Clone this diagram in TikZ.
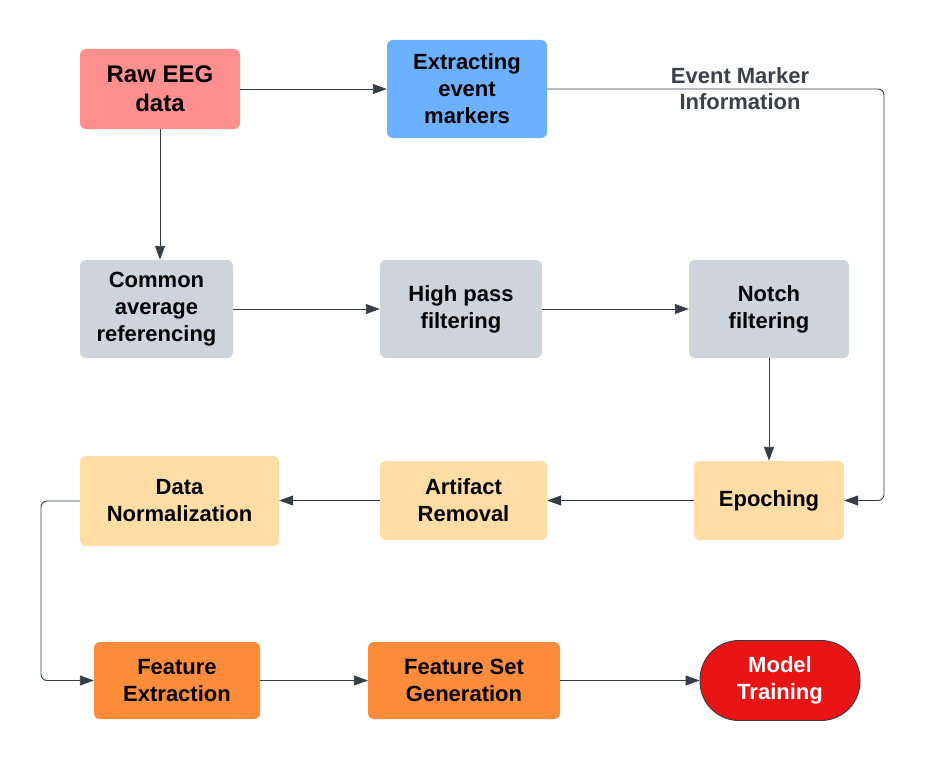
\documentclass[tikz,border=0pt]{standalone}
\usepackage{fontspec}
\setmainfont{Liberation Sans}
\usetikzlibrary{arrows.meta}
\definecolor{cRaw}{HTML}{FF8F8F}
\definecolor{cExt}{HTML}{6CB1FF}
\definecolor{cGray}{HTML}{CED4DC}
\definecolor{cYel}{HTML}{FFDDA5}
\definecolor{cOra}{HTML}{FF8C3B}
\definecolor{cRed}{HTML}{E81416}
\definecolor{cLine}{HTML}{343D48}
\definecolor{cLabel}{HTML}{3B4149}
\begin{document}
\begin{tikzpicture}[x=1pt,y=-1pt,
  box/.style={rectangle, rounded corners=6pt, draw=none, align=center,
    font=\fontsize{22}{27}\selectfont\bfseries, inner sep=0pt, text=black},
  conn/.style={draw=cLine, line width=0.9pt, -{Triangle[length=14pt,width=10pt]}}]
\useasboundingbox[fill=white] (0,0) rectangle (925,760);

\node[box, fill=cRaw, minimum width=160pt, minimum height=80pt,
  font=\fontsize{24}{29}\selectfont\bfseries] (raw) at (160,89) {Raw EEG\\data};
\node[box, fill=cExt, minimum width=160pt, minimum height=98pt] (ext) at (467,89) {Extracting\\event\\markers};
\node[box, fill=cGray, minimum width=153pt, minimum height=98pt] (car) at (156.5,309) {Common\\average\\referencing};
\node[box, fill=cGray, minimum width=162pt, minimum height=98pt] (hp) at (461,309) {High pass\\filtering};
\node[box, fill=cGray, minimum width=160pt, minimum height=98pt] (notch) at (769,309) {Notch\\filtering};
\node[box, fill=cYel, minimum width=150pt, minimum height=79pt] (epoch) at (769,500.5) {Epoching};
\node[box, fill=cYel, minimum width=167pt, minimum height=79pt] (art) at (463.5,500.5) {Artifact\\Removal};
\node[box, fill=cYel, minimum width=199pt, minimum height=90pt] (dn) at (179.5,501) {Data\\Normalization};
\node[box, fill=cOra, minimum width=166pt, minimum height=77pt] (fe) at (177,680.5) {Feature\\Extraction};
\node[box, fill=cOra, minimum width=192pt, minimum height=77pt] (fs) at (464,680.5) {Feature Set\\Generation};
\node[box, fill=cRed, draw=cLine, line width=0.9pt, rounded corners=39pt, text=white,
  minimum width=160pt, minimum height=80pt] (mt) at (780,680.5) {Model\\Training};

\coordinate (c1) at (884,89);
\coordinate (c2) at (41,501);

\draw[conn] (raw.east) -- (ext.west);
\draw[conn] (raw.south) -- (raw.south |- car.north);
\draw[conn, rounded corners=6pt] (ext.east) -- (c1) |- (epoch.east);
\node[align=center, text=cLabel, font=\fontsize{22}{26}\selectfont\bfseries, inner sep=0pt] (lbl) at (740,89) {Event Marker\\Information};
\draw[conn] (car.east) -- (hp.west);
\draw[conn] (hp.east) -- (notch.west);
\draw[conn] (notch.south) -- (epoch.north);
\draw[conn] (epoch.west) -- (art.east);
\draw[conn] (art.west) -- (art.west -| dn.east);
\draw[conn, rounded corners=6pt] (dn.west) -- (c2) |- (fe.west);
\draw[conn] (fe.east) -- (fs.west);
\draw[conn] (fs.east) -- (mt.west);
\end{tikzpicture}
\end{document}
